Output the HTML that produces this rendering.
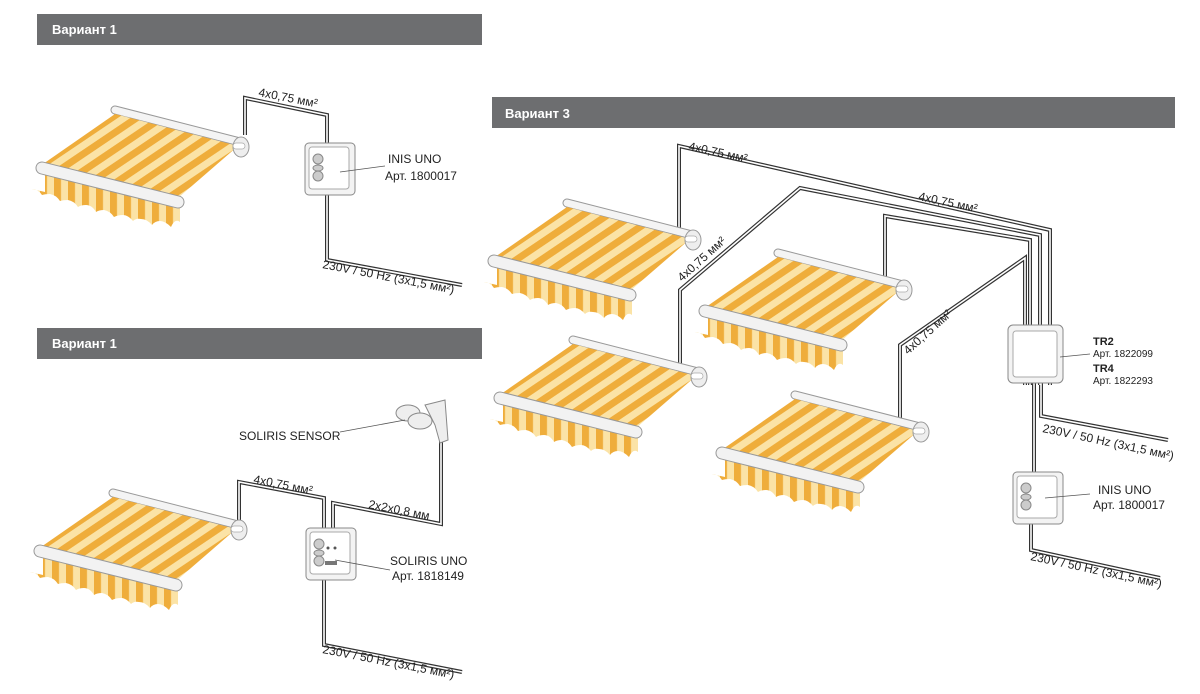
<!DOCTYPE html>
<html><head><meta charset="utf-8"><style>
html,body{margin:0;padding:0;background:#fff}
svg{display:block}
text{font-family:"Liberation Sans",sans-serif;fill:#222}
.h{fill:#fff;font-weight:bold;font-size:13px}
.l{font-size:12px}
.s{font-size:10px}
</style></head><body>
<svg width="1200" height="694" viewBox="0 0 1200 694" xmlns="http://www.w3.org/2000/svg">
<defs>
<pattern id="st" width="14" height="14" patternUnits="userSpaceOnUse" patternTransform="rotate(56)">
<rect width="14" height="14" fill="#fbe3a6"/><rect width="7" height="14" fill="#efad3b"/>
</pattern>
<pattern id="vs" width="14" height="14" patternUnits="userSpaceOnUse" patternTransform="skewY(14)">
<rect width="14" height="14" fill="#fbe3a6"/><rect width="7" height="14" fill="#efad3b"/>
</pattern>
<g id="aw">
<line x1="75" y1="-52" x2="200" y2="-20" stroke="#999" stroke-width="9" stroke-linecap="round"/>
<line x1="75" y1="-52" x2="200" y2="-20" stroke="#f4f4f4" stroke-width="7" stroke-linecap="round"/>
<polygon points="3,2 75,-48 198,-16 138,36" fill="url(#st)"/>
<path d="M5,12 L140,46 L140,60 q-5,-4 -9,5 q-6,-6 -11,-6 q-5,0 -8,4 q-5,-6 -11,-6 q-5,-1 -8,2 q-5,-6 -10,-6 q-5,0 -9,2 q-4,-6 -10,-7 q-5,0 -8,2 q-4,-7 -10,-7 q-5,0 -8,2 q-4,-6 -10,-7 q-5,0 -8,1 q-4,-6 -10,-7 q-5,0 -8,1 q-4,-6 -10,-6 L5,30 Z" fill="url(#vs)"/>
<line x1="2" y1="6" x2="138" y2="40" stroke="#999" stroke-width="13" stroke-linecap="round"/>
<line x1="2" y1="6" x2="138" y2="40" stroke="#f2f2f2" stroke-width="11" stroke-linecap="round"/>
<ellipse cx="201" cy="-15" rx="8" ry="10" fill="#eee" stroke="#999"/>
<rect x="193" y="-19" width="12" height="6" rx="3" fill="#fff" stroke="#aaa" stroke-width=".7"/>
</g>
<g id="sw">
<rect x="0" y="0" width="50" height="52" rx="4" fill="#f3f3f3" stroke="#888"/>
<rect x="4" y="4" width="40" height="42" rx="3" fill="#fff" stroke="#aaa"/>
<ellipse cx="13" cy="16" rx="5" ry="5" fill="#ccc" stroke="#888"/>
<ellipse cx="13" cy="25" rx="5" ry="3" fill="#ccc" stroke="#888"/>
<ellipse cx="13" cy="33" rx="5" ry="5" fill="#ccc" stroke="#888"/>
</g>
</defs>

<rect x="37" y="14" width="445" height="31" fill="#6d6e70"/>
<text class="h" x="52" y="34">Вариант 1</text>
<rect x="37" y="328" width="445" height="31" fill="#6d6e70"/>
<text class="h" x="52" y="348">Вариант 1</text>
<rect x="492" y="97" width="683" height="31" fill="#6d6e70"/>
<text class="h" x="505" y="118">Вариант 3</text>

<g fill="none" stroke-linejoin="miter">
<g stroke="#333" stroke-width="4">
<path d="M245,135 V98 L327,115 V260 L462,285"/>
<path d="M239,520 V482 L324,498 V645 L462,672"/>
<path d="M333,530 V503 L441,524 V436"/>
<path d="M679,232 V146 L1050,230 V385"/>
<path d="M680,368 V290 L800,188 L1040,235 V385"/>
<path d="M885,282 V216 L1030,240 V385"/>
<path d="M900,420 V345 L1025,258 V385"/>
<path d="M1041,380 V416 L1168,440"/>
<path d="M1034,380 V475"/>
<path d="M1031,518 V550 L1160,578"/>
</g>
<g stroke="#fff" stroke-width="1.6">
<path d="M245,135 V98 L327,115 V260 L462,285"/>
<path d="M239,520 V482 L324,498 V645 L462,672"/>
<path d="M333,530 V503 L441,524 V436"/>
<path d="M679,232 V146 L1050,230 V385"/>
<path d="M680,368 V290 L800,188 L1040,235 V385"/>
<path d="M885,282 V216 L1030,240 V385"/>
<path d="M900,420 V345 L1025,258 V385"/>
<path d="M1041,380 V416 L1168,440"/>
<path d="M1034,380 V475"/>
<path d="M1031,518 V550 L1160,578"/>
</g>
</g>

<use href="#aw" transform="translate(40,162)"/>
<use href="#aw" transform="translate(38,545)"/>
<use href="#aw" transform="translate(492,255)"/>
<use href="#aw" transform="translate(498,392)"/>
<use href="#aw" transform="translate(703,305)"/>
<use href="#aw" transform="translate(720,447)"/>

<use href="#sw" transform="translate(305,143)"/>
<use href="#sw" transform="translate(306,528)"/>
<circle cx="328" cy="548" r="1.5" fill="#555"/><circle cx="335" cy="548" r="1.5" fill="#555"/>
<rect x="325" y="561" width="12" height="4" fill="#777"/>
<use href="#sw" transform="translate(1013,472)"/>
<rect x="1008" y="325" width="55" height="58" rx="5" fill="#f3f3f3" stroke="#888"/>
<rect x="1013" y="331" width="44" height="46" rx="3" fill="#fff" stroke="#aaa"/>

<g transform="translate(390,395)" fill="#eee" stroke="#888">
<ellipse cx="18" cy="18" rx="12" ry="8"/>
<ellipse cx="30" cy="26" rx="12" ry="8"/>
<path d="M35,10 L55,5 L58,45 L50,48 L45,30 Z"/>
</g>

<g stroke="#555" stroke-width=".8">
<line x1="340" y1="172" x2="385" y2="166"/>
<line x1="335" y1="560" x2="390" y2="570"/>
<line x1="340" y1="432" x2="405" y2="420"/>
<line x1="1060" y1="357" x2="1090" y2="354"/>
<line x1="1045" y1="498" x2="1090" y2="494"/>
</g>

<text class="l" x="388" y="163">INIS UNO</text>
<text class="l" x="385" y="180">Арт. 1800017</text>
<text class="l" x="390" y="565">SOLIRIS UNO</text>
<text class="l" x="392" y="580">Арт. 1818149</text>
<text class="l" x="239" y="440">SOLIRIS SENSOR</text>
<text class="l" x="1098" y="494">INIS UNO</text>
<text class="l" x="1093" y="509">Арт. 1800017</text>
<text x="1093" y="345" style="font-size:11px;font-weight:bold">TR2</text>
<text class="s" x="1093" y="357">Арт.  1822099</text>
<text x="1093" y="372" style="font-size:11px;font-weight:bold">TR4</text>
<text class="s" x="1093" y="384">Арт.  1822293</text>

<text class="l" transform="translate(258,96) rotate(11)">4x0,75  мм²</text>
<text class="l" transform="translate(253,483) rotate(11)">4x0,75  мм²</text>
<text class="l" transform="translate(368,508) rotate(11)">2x2x0,8 мм</text>
<text class="l" transform="translate(322,268) rotate(11)">230V / 50 Hz (3x1,5  мм²)</text>
<text class="l" transform="translate(322,653) rotate(11)">230V / 50 Hz (3x1,5  мм²)</text>
<text class="l" transform="translate(688,150) rotate(12)">4x0,75  мм²</text>
<text class="l" transform="translate(918,200) rotate(12)">4x0,75  мм²</text>
<text class="l" transform="translate(682,282) rotate(-42)">4x0,75  мм²</text>
<text class="l" transform="translate(908,355) rotate(-42)">4x0,75  мм²</text>
<text class="l" transform="translate(1042,432) rotate(12)">230V / 50 Hz (3x1,5  мм²)</text>
<text class="l" transform="translate(1030,560) rotate(12)">230V / 50 Hz (3x1,5  мм²)</text>
</svg>
</body></html>
